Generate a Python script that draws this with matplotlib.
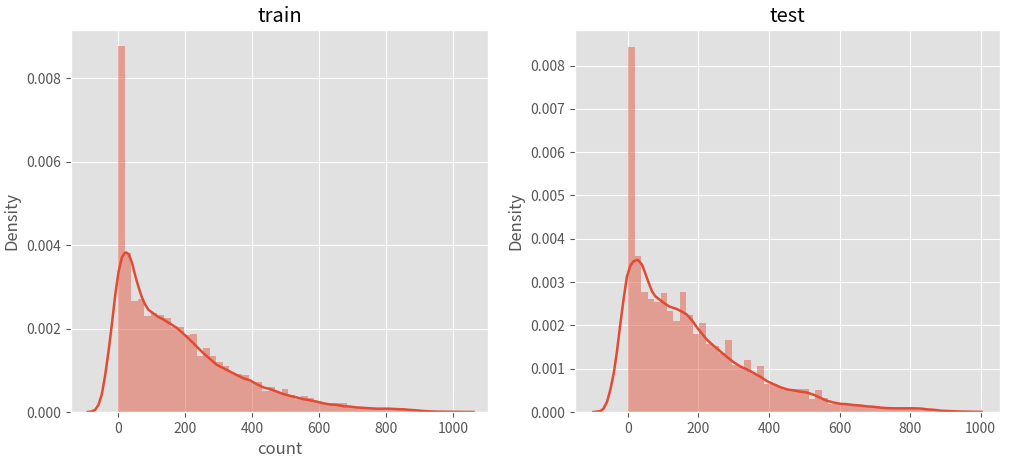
import numpy as np
import matplotlib
matplotlib.use("Agg")
import matplotlib.pyplot as plt

plt.style.use("ggplot")
plt.rcParams['font.family'] = ['Noto Sans CJK KR', 'DejaVu Sans']
plt.rcParams['axes.unicode_minus'] = False
plt.rcParams['axes.facecolor'] = '#E1E1E1'

# ---- data ----
train_range = (1, 977)
test_range = (1, 916)
n_bins = 50

train_density = [8.77, 3.81, 2.66, 2.70, 2.29, 2.38, 2.33, 2.26, 2.04, 2.04,
                 1.84, 1.88, 1.33, 1.53, 1.35, 1.19, 1.09, 0.93, 0.91, 0.89,
                 0.73, 0.73, 0.51, 0.59, 0.47, 0.55, 0.41, 0.31, 0.38, 0.33,
                 0.27, 0.18, 0.22, 0.21, 0.21, 0.13, 0.13, 0.09, 0.09, 0.09,
                 0.08, 0.07, 0.06, 0.05, 0.04, 0.04, 0.03, 0.02, 0.02, 0.01]
test_density = [8.43, 3.61, 2.78, 2.60, 2.53, 2.74, 2.34, 2.11, 2.78, 2.23,
                1.81, 2.06, 1.58, 1.53, 1.37, 1.67, 1.09, 1.05, 1.19, 0.88,
                1.07, 0.65, 0.65, 0.58, 0.51, 0.53, 0.53, 0.53, 0.30, 0.51,
                0.33, 0.18, 0.18, 0.17, 0.17, 0.17, 0.16, 0.15, 0.14, 0.07,
                0.07, 0.07, 0.06, 0.07, 0.06, 0.05, 0.04, 0.03, 0.02, 0.01]

train_kde_x = [-90, -80, -68, -58, -48, -38, -28, -18, -8, 2, 12, 20, 25, 32, 42,
               52, 62, 72, 81, 91, 106, 120, 135, 155, 175, 195, 215, 235, 255, 275,
               295, 315, 334, 354, 374, 394, 414, 434, 454, 474, 494, 513, 533, 553,
               573, 593, 613, 633, 653, 673, 692, 712, 732, 752, 772, 792, 812, 832,
               852, 872, 891, 911, 931, 951, 991, 1030, 1062]
train_kde_y = [0.0, 0.01, 0.05, 0.17, 0.42, 0.88, 1.45, 2.10, 2.80, 3.36, 3.70, 3.81,
               3.82, 3.78, 3.58, 3.26, 2.98, 2.74, 2.58, 2.45, 2.36, 2.28, 2.22, 2.12,
               2.02, 1.88, 1.73, 1.57, 1.41, 1.27, 1.13, 1.05, 0.97, 0.89, 0.81, 0.76,
               0.67, 0.59, 0.55, 0.49, 0.43, 0.39, 0.35, 0.31, 0.28, 0.25, 0.21, 0.18,
               0.17, 0.14, 0.13, 0.11, 0.10, 0.09, 0.08, 0.08, 0.08, 0.07, 0.065, 0.05,
               0.04, 0.025, 0.016, 0.01, 0.006, 0.002, 0.0]

test_kde_x = [-98, -88, -78, -69, -59, -50, -40, -31, -22, -12, -3, 7, 16, 26, 30,
              40, 49, 59, 68, 78, 92, 105, 119, 138, 157, 167, 176, 186, 195, 210,
              224, 243, 262, 281, 300, 319, 338, 357, 376, 395, 414, 433, 452, 469,
              488, 507, 526, 545, 564, 583, 602, 621, 640, 659, 678, 697, 716, 735,
              754, 773, 792, 811, 830, 850, 869, 888, 915, 941, 970, 1003]
test_kde_y = [0.0, 0.01, 0.02, 0.08, 0.24, 0.51, 0.90, 1.40, 2.00, 2.62, 3.12, 3.38,
              3.48, 3.51, 3.50, 3.40, 3.21, 2.98, 2.79, 2.67, 2.58, 2.50, 2.43, 2.38,
              2.30, 2.25, 2.17, 2.07, 1.96, 1.81, 1.67, 1.53, 1.40, 1.27, 1.15, 1.05,
              0.98, 0.90, 0.81, 0.71, 0.64, 0.57, 0.52, 0.50, 0.47, 0.45, 0.40, 0.33,
              0.26, 0.22, 0.19, 0.18, 0.16, 0.15, 0.13, 0.12, 0.10, 0.09, 0.085,
              0.085, 0.085, 0.085, 0.08, 0.06, 0.05, 0.03, 0.02, 0.012, 0.007, 0.003]

titles = ["train", "test"]
xlabels = ["count", ""]

color = "#E24A33"

fig = plt.figure(figsize=(10.13, 4.73), dpi=100)
ax1 = fig.add_axes([71/1013, 61/473, 417/1013, 382/473])
ax2 = fig.add_axes([575/1013, 61/473, 425/1013, 382/473])

datasets = [
    (ax1, train_range, train_density, train_kde_x, train_kde_y, (-140, 1105), 0.00915),
    (ax2, test_range, test_density, test_kde_x, test_kde_y, (-150, 1055), 0.00882),
]

for i, (ax, rng, dens, kx, ky, xlim, ytop) in enumerate(datasets):
    edges = np.linspace(rng[0], rng[1], n_bins + 1)
    widths = np.diff(edges)
    ax.bar(edges[:-1], np.array(dens) * 1e-3, width=widths, align="edge",
           color=color, alpha=0.45, linewidth=0)
    ax.plot(kx, np.array(ky) * 1e-3, color=color, lw=1.8,
            solid_joinstyle="round")
    ax.set_xlim(*xlim)
    ax.set_ylim(0, ytop)
    ax.set_title(titles[i], fontsize=14.5)
    ax.set_ylabel("Density", fontsize=12)
    ax.set_xlabel(xlabels[i], fontsize=12)
    ax.tick_params(labelsize=10)

ax1.set_yticks([0, 0.002, 0.004, 0.006, 0.008])
ax2.set_yticks([0, 0.001, 0.002, 0.003, 0.004, 0.005, 0.006, 0.007, 0.008])
for ax in (ax1, ax2):
    ax.set_xticks([0, 200, 400, 600, 800, 1000])

fig.savefig("out.png", dpi=100)
